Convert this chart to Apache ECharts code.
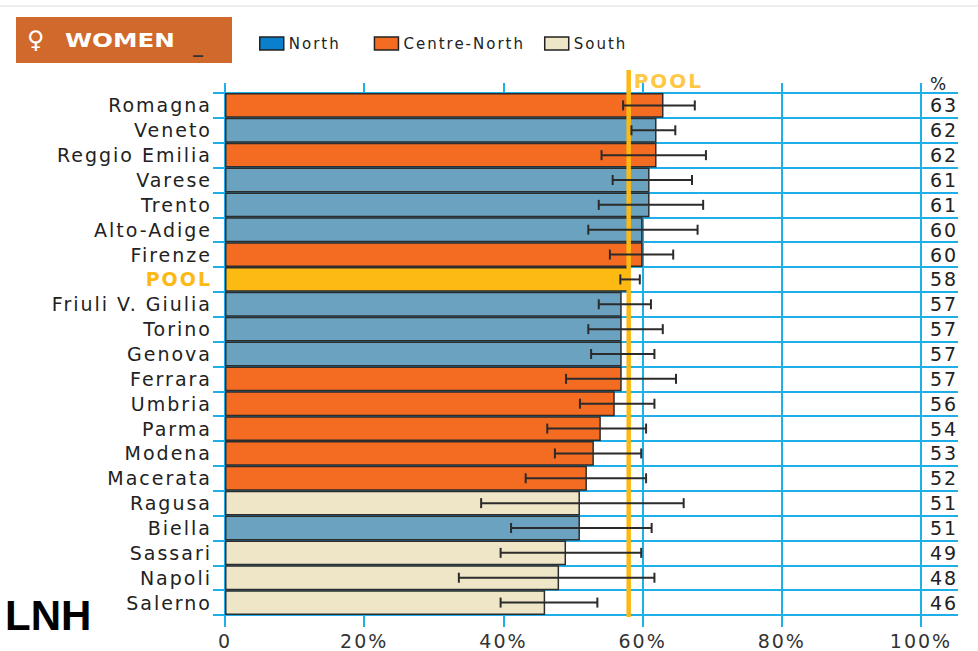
<!DOCTYPE html>
<html>
<head>
<meta charset="utf-8">
<script src="https://cdn.jsdelivr.net/npm/echarts@6/dist/echarts.min.js"></script>
<style>
  html, body { margin: 0; padding: 0; background: #fff; }
  #chart { width: 978px; height: 651px; }
  #chart text { letter-spacing: 2px; }
  #chart text[fill="#fff"], #chart text[fill="#000"] { letter-spacing: 0; }
</style>
</head>
<body>
<div id="chart"></div>
<script>
// Share of women per area, with confidence interval, grouped by macro-region
const categories = ['Romagna', 'Veneto', 'Reggio Emilia', 'Varese', 'Trento', 'Alto-Adige', 'Firenze', 'POOL',
  'Friuli V. Giulia', 'Torino', 'Genova', 'Ferrara', 'Umbria', 'Parma', 'Modena', 'Macerata', 'Ragusa',
  'Biella', 'Sassari', 'Napoli', 'Salerno'];
const regions = ['Centre-North', 'North', 'Centre-North', 'North', 'North', 'North', 'Centre-North', 'POOL',
  'North', 'North', 'North', 'Centre-North', 'Centre-North', 'Centre-North', 'Centre-North', 'Centre-North', 'South',
  'North', 'South', 'South', 'South'];
const values = [63, 62, 62, 61, 61, 60, 60, 58, 57, 57, 57, 57, 56, 54, 53, 52, 51, 51, 49, 48, 46];
const ciLow = [57.2, 58.4, 54.1, 55.7, 53.7, 52.2, 55.3, 56.8, 53.7, 52.2, 52.6, 49.0, 51.0, 46.3, 47.4, 43.2, 36.8,
  41.1, 39.6, 33.6, 39.6];
const ciHigh = [67.5, 64.7, 69.1, 67.1, 68.7, 67.9, 64.4, 59.6, 61.2, 62.9, 61.7, 64.8, 61.7, 60.5, 59.8, 60.5, 65.9,
  61.3, 59.8, 61.7, 53.5];
const xTicks = [0, 20, 40, 60, 80, 100];
const poolValue = 58;
const legendNames = ['North', 'Centre-North', 'South'];

const regionColors = { 'North': '#6aa2c0', 'Centre-North': '#f46c22', 'South': '#efe6c8', 'POOL': '#fdba12' };
const legendColors = { 'North': '#0a7fcb', 'Centre-North': '#f46c22', 'South': '#efe6c8' };
const gridBlue = '#1eaee8';
const poolOrange = '#fdb913';
const font = 'DejaVu Sans';

const xMin = xTicks[0], xMax = xTicks[xTicks.length - 1], xStep = xTicks[1] - xTicks[0];

function valuesFor(region) {
  return values.map((v, i) => (regions[i] === region ? v : null));
}

const barSeries = ['North', 'Centre-North', 'South', 'POOL'].map(r => ({
  name: r,
  type: 'bar',
  stack: 'rows',
  xAxisIndex: 0,
  yAxisIndex: 0,
  barCategoryGap: '0%',
  z: 2,
  silent: true,
  itemStyle: { color: regionColors[r], borderColor: '#2d2d2d', borderWidth: 1.5 },
  data: valuesFor(r)
}));

const chart = echarts.init(document.getElementById('chart'), null, { renderer: 'svg' });

chart.setOption({
  animation: false,
  textStyle: { fontFamily: font },
  legend: {
    left: 259,
    top: 36,
    padding: 0,
    itemWidth: 24,
    itemHeight: 13,
    itemGap: 43,
    icon: 'rect',
    selectedMode: false,
    textStyle: { fontSize: 15, color: '#222', fontFamily: font },
    itemStyle: { borderColor: '#222', borderWidth: 1.5 },
    data: legendNames.map(n => ({ name: n, itemStyle: { color: legendColors[n] } }))
  },
  grid: [
    { left: 225, right: 57, top: 93, bottom: 36 },
    { left: 225, right: 20, top: 93, bottom: 36 },
    { left: 225, right: 57, top: 70, bottom: 34 }
  ],
  xAxis: [
    {
      type: 'value', gridIndex: 0, position: 'bottom',
      min: xMin, max: xMax, interval: xStep,
      axisLine: { show: false },
      axisTick: { show: true, length: 12, lineStyle: { color: gridBlue, width: 2 } },
      splitLine: { show: true, lineStyle: { color: gridBlue, width: 2 } },
      axisLabel: { fontSize: 19, color: '#333', margin: 16, formatter: v => (v === 0 ? '0' : v + '%') }
    },
    {
      type: 'value', gridIndex: 0, position: 'top',
      min: xMin, max: xMax, interval: xStep,
      axisLine: { show: false },
      axisTick: { show: true, length: 10, lineStyle: { color: gridBlue, width: 2 } },
      splitLine: { show: false },
      axisLabel: { show: false }
    },
    { type: 'value', gridIndex: 1, min: 0, max: 1, show: false },
    { type: 'value', gridIndex: 2, min: xMin, max: xMax, show: false }
  ],
  yAxis: [
    {
      type: 'category', gridIndex: 0, inverse: true, data: categories,
      axisLine: { show: false },
      axisTick: { show: true, interval: 0, length: 12, lineStyle: { color: gridBlue, width: 2 } },
      splitLine: { show: false },
      axisLabel: {
        interval: 0, fontSize: 19, color: '#222', margin: 13,
        formatter: v => (v === 'POOL' ? '{pool|POOL}' : v),
        rich: { pool: { color: poolOrange, fontWeight: 'bold', fontSize: 19, fontFamily: font } }
      }
    },
    {
      type: 'category', gridIndex: 0, inverse: true, position: 'right', data: categories,
      axisLine: { show: false },
      axisTick: { show: false },
      splitLine: { show: false },
      axisLabel: { interval: 0, fontSize: 19, color: '#222', margin: 9, formatter: (v, i) => String(values[i]) }
    },
    {
      type: 'category', gridIndex: 1, inverse: true, data: categories,
      axisLine: { show: false },
      axisTick: { show: false },
      axisLabel: { show: false, interval: 0 },
      splitLine: { show: true, interval: 0, lineStyle: { color: gridBlue, width: 2 } }
    },
    { type: 'value', gridIndex: 2, min: 0, max: 1, show: false }
  ],
  graphic: [
    { type: 'line', shape: { x1: 0, y1: 6, x2: 978, y2: 6 }, style: { stroke: '#dcdcdc', lineWidth: 1 }, silent: true },
    { type: 'rect', shape: { x: 16, y: 17, width: 216, height: 46 }, style: { fill: '#d0692b' }, silent: true },
    { type: 'text', x: 27, y: 40, style: { text: '♀', fontSize: 24, fontFamily: font, fill: '#fff', verticalAlign: 'middle' }, silent: true },
    { type: 'text', x: 65, y: 40, scaleX: 1.23, style: { text: 'WOMEN', fontSize: 20, fontWeight: 'bold', fontFamily: font, fill: '#fff', verticalAlign: 'middle' }, silent: true },
    { type: 'text', x: 193, y: 45, style: { text: '_', fontSize: 20, fontWeight: 'bold', fontFamily: font, fill: '#333', verticalAlign: 'middle' }, silent: true },
    { type: 'text', x: 930, y: 84, style: { text: '%', fontSize: 17, fontFamily: font, fill: '#222', verticalAlign: 'middle' }, silent: true },
    { type: 'text', x: 5, y: 615, style: { text: 'LNH', fontSize: 42, fontWeight: 'bold', fontFamily: 'Liberation Sans', fill: '#000', verticalAlign: 'middle' }, silent: true }
  ],
  series: [
    ...barSeries,
    {
      name: 'Pool line',
      type: 'line',
      xAxisIndex: 3,
      yAxisIndex: 3,
      z: 6,
      silent: true,
      symbol: 'none',
      lineStyle: { color: poolOrange, width: 4.5 },
      data: [[poolValue, 0], [poolValue, 1]]
    },
    {
      name: 'Pool label',
      type: 'scatter',
      xAxisIndex: 3,
      yAxisIndex: 3,
      z: 6,
      silent: true,
      clip: false,
      symbolSize: 0,
      itemStyle: { color: 'transparent' },
      label: {
        show: true, position: 'right', distance: 5, offset: [0, 11],
        formatter: 'POOL', color: poolOrange, fontWeight: 'bold', fontSize: 20, fontFamily: font
      },
      data: [[poolValue, 1]]
    },
    {
      name: 'Confidence interval',
      type: 'custom',
      xAxisIndex: 0,
      yAxisIndex: 0,
      z: 10,
      silent: true,
      encode: { y: 0, x: [1, 2] },
      data: categories.map((c, i) => [i, ciLow[i], ciHigh[i]]),
      renderItem(params, api) {
        const row = api.value(0);
        const a = api.coord([api.value(1), row]);
        const b = api.coord([api.value(2), row]);
        const h = 5;
        const st = { stroke: '#2b2b2b', lineWidth: 2 };
        return {
          type: 'group',
          children: [
            { type: 'line', shape: { x1: a[0], y1: a[1], x2: b[0], y2: b[1] }, style: st },
            { type: 'line', shape: { x1: a[0], y1: a[1] - h, x2: a[0], y2: a[1] + h }, style: st },
            { type: 'line', shape: { x1: b[0], y1: b[1] - h, x2: b[0], y2: b[1] + h }, style: st }
          ]
        };
      }
    }
  ]
});
</script>
</body>
</html>
